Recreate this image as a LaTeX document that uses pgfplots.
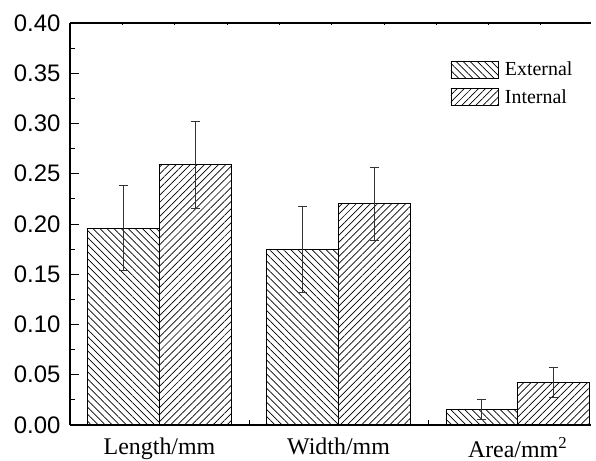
\documentclass[border=0pt]{standalone}
\usepackage{fontspec}
\setmainfont{Liberation Serif}
\setsansfont{Liberation Sans}
\usepackage{pgfplots}
\pgfplotsset{compat=1.18}
\usetikzlibrary{patterns.meta}

\begin{document}
\begin{tikzpicture}
\useasboundingbox (-70bp,-36bp) rectangle (526bp,425bp);
% top frame line with small ticks
\begin{axis}[
  scale only axis, width=521bp, height=402bp,
  xmin=0, xmax=9.96, ymin=0, ymax=1,
  axis x line*=top, axis y line=none,
  axis line style={line width=1.1pt},
  xtick={1,2,3,4,5,6,7,8,9}, xticklabels={},
  tick align=inside, tick style={black, line width=0.7pt},
  major tick length=2.5bp,
]
\end{axis}
\begin{axis}[
  scale only axis, width=521bp, height=402bp,
  xmin=-0.5, xmax=2.41, ymin=0, ymax=0.40,
  axis x line*=bottom, axis y line*=left,
  axis line style={line width=1.1pt},
  ybar=0pt, bar width=0.4,
  legend image code/.code={\draw[#1] (0bp,-8.5bp) rectangle (47bp,8.5bp);},
  ytick={0,0.05,0.10,0.15,0.20,0.25,0.30,0.35,0.40}, minor y tick num=1,
  yticklabel style={font=\fontsize{24}{26}\sffamily, xshift=-6bp, /pgf/number format/.cd, fixed, fixed zerofill, precision=2, assume math mode=true},
  xtick={0,1,2}, xticklabels={Length/mm, Width/mm, Area/mm\textsuperscript{2}},
  xticklabel style={font=\fontsize{24}{26}\rmfamily, yshift=-9bp},
  minor xtick={0.5,1.5},
  tick align=inside, tick style={black, line width=0.9pt},
  major tick length=9bp, minor tick length=5bp,
  legend style={draw=none, fill=none, at={(0.730,0.912)}, anchor=north west, inner sep=0pt,
    font=\fontsize{20}{22}\selectfont, row sep=5bp, nodes={inner sep=3.5bp},
    /tikz/every odd column/.append style={column sep=3bp}},
  legend cell align=left,
]
\addplot[draw=black, line width=0.9pt, pattern={Lines[angle=-45, distance=5bp, line width=0.7pt]},
  error bars/.cd, y dir=both, y explicit,
  error bar style={line width=0.8pt, black!80},
  error mark options={rotate=90, mark size=4.5bp, line width=0.8pt, black!80}]
  coordinates {(0,0.196) +- (0,0.042) (1,0.175) +- (0,0.043) (2,0.0155) +- (0,0.010)};
\addplot[draw=black, line width=0.9pt, pattern={Lines[angle=45, distance=5bp, line width=0.7pt]},
  error bars/.cd, y dir=both, y explicit,
  error bar style={line width=0.8pt, black!80},
  error mark options={rotate=90, mark size=4.5bp, line width=0.8pt, black!80}]
  coordinates {(0,0.259) +- (0,0.043) (1,0.220) +- (0,0.036) (2,0.0425) +- (0,0.015)};
\legend{External, Internal}
\end{axis}
\end{tikzpicture}
\end{document}
